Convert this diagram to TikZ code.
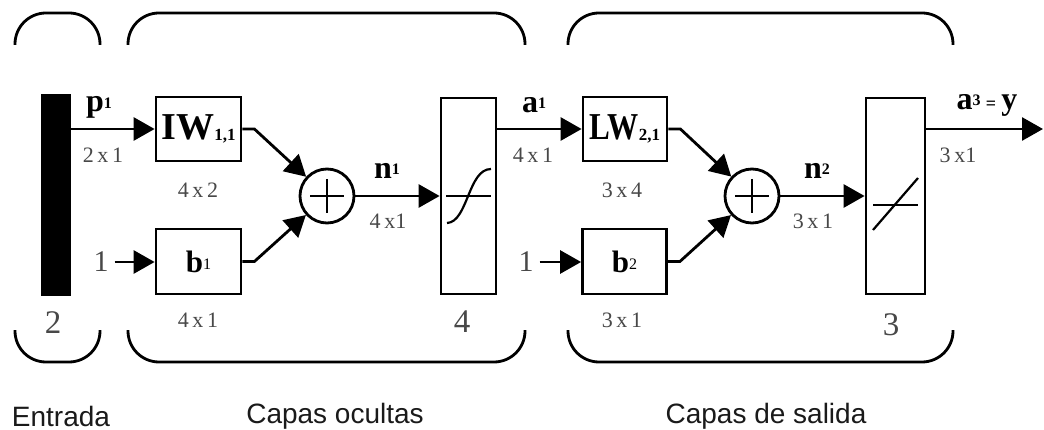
\documentclass[tikz,border=0pt]{standalone}
\usepackage{fontspec}
\setmainfont{Liberation Serif}
\newfontfamily\capsans{Liberation Sans}
\usetikzlibrary{arrows.meta}
\definecolor{labgray}{HTML}{484848}
\definecolor{capdark}{HTML}{1A1A1A}
\newcommand\fsz[1]{\fontsize{#1}{#1}\selectfont}
\newcommand\idx[2]{{\fsz{#1}#2}}
\tikzset{
  wire/.style={line width=2.8pt},
  arr/.style={wire,-{Triangle[length=21pt,width=23pt]}},
  blockbox/.style={draw,line width=2.8pt,inner sep=0pt,fill=white},
  sumnode/.style={draw,circle,line width=2.8pt,minimum size=54pt,inner sep=0pt},
  dimlab/.style={text=labgray,font=\fsz{22},inner sep=0pt},
  numlab/.style={text=labgray,font=\fsz{33},inner sep=0pt},
  biaslab/.style={text=labgray,font=\fsz{30},inner sep=0pt,inner xsep=6pt},
  sigtext/.style={font=\fsz{32}\bfseries,inner sep=0pt},
  bracepath/.style={line width=2.8pt,rounded corners=31pt},
  captext/.style={font=\capsans\fsz{28},text=capdark,inner sep=0pt},
  icon/.style={line width=2.2pt},
}
\begin{document}
\begin{tikzpicture}[x=1pt,y=-1pt]
\useasboundingbox (0,0) rectangle (1044,430);
% braces
\draw[bracepath] (15,45) |- (100,13) -- (100,45);
\draw[bracepath] (128,45) |- (525,13) -- (525,45);
\draw[bracepath] (568,45) |- (953,13) -- (953,45);
\draw[bracepath] (15,330) |- (100,362) -- (100,330);
\draw[bracepath] (128,330) |- (525,362) -- (525,330);
\draw[bracepath] (568,330) |- (953,362) -- (953,330);
% blocks
\node[blockbox,fill=black,minimum width=28pt,minimum height=200pt] (bar) at (56,195) {};
\node[blockbox,minimum width=85pt,minimum height=64pt] (IW) at (198.5,129)
  {{\fsz{38}\bfseries IW}\raisebox{-1pt}{\idx{17}{\bfseries 1,1}}};
\node[blockbox,minimum width=85pt,minimum height=65pt] (b1) at (198.5,261.5)
  {{\fsz{31}\bfseries b}\raisebox{3pt}{\idx{16}{1}}};
\node[sumnode] (s1) at (327,196) {};
\node[blockbox,minimum width=55pt,minimum height=196pt] (sig) at (468.5,196) {};
\node[blockbox,minimum width=84pt,minimum height=64pt] (LW) at (625,129)
  {\scalebox{0.82}[1]{\fsz{38}\bfseries LW}\raisebox{-1pt}{\idx{17}{\bfseries 2,1}}};
\node[blockbox,minimum width=84pt,minimum height=65pt] (b2) at (624.5,261.5)
  {{\fsz{31}\bfseries b}\raisebox{3pt}{\idx{16}{2}}};
\node[sumnode] (s2) at (752,196) {};
\node[blockbox,minimum width=59pt,minimum height=196pt] (lin) at (895.5,196) {};
% icons
\draw[icon] (310,196) -- (344,196);
\draw[icon] (327,179) -- (327,213);
\draw[icon] (735,196) -- (769,196);
\draw[icon] (752,179) -- (752,213);
\draw[icon] (446,196) -- (491,196);
\draw[icon] (447,223) .. controls (468,222) and (468,169) .. (491,169);
\draw[icon] (873,205) -- (918,205);
\draw[icon] (873,230) -- (918,178);
% bias inputs
\node[biaslab] (one1) at (101,262) {1};
\node[biaslab] (one2) at (526,262) {1};
\coordinate (yout) at (1043,129);
% connectors
\draw[arr] (bar.east |- IW.west) -- (IW.west);
\draw[arr] (one1.east) -- (one1.east -| b1.west);
\draw[arr] (IW.east) -- ++(12,0) -- (s1);
\draw[arr] (b1.east) -- ++(12,0) -- (s1);
\draw[arr] (s1.east) -- (sig.west);
\draw[arr] (sig.east |- LW.west) -- (LW.west);
\draw[arr] (one2.east) -- (one2.east -| b2.west);
\draw[arr] (LW.east) -- ++(12,0) -- (s2);
\draw[arr] (b2.east) -- ++(12,0) -- (s2);
\draw[arr] (s2.east) -- (lin.west);
\draw[arr] (lin.east |- yout) -- (yout);
% signal labels
\node[sigtext] (plab) at (99,107) {p\raisebox{3pt}{\idx{16}{1}}};
\node[sigtext] (n1lab) at (387,171) {n\raisebox{4pt}{\idx{16}{1}}};
\node[sigtext] (a1lab) at (534,105) {a\raisebox{4pt}{\idx{16}{1}}};
\node[sigtext] (n2lab) at (817,171) {n\raisebox{4pt}{\idx{16}{2}}};
\node[sigtext] (a3lab) at (987,105) {a\raisebox{4pt}{\idx{16}{3}}\,{\fsz{18}=}\,y};
% dimension labels
\node[dimlab] (d1) at (103,155) {2\,x\,1};
\node[dimlab] (d2) at (198,190) {4\,x\,2};
\node[dimlab] (d3) at (198,320) {4\,x\,1};
\node[dimlab] (d4) at (388,221) {4\,x1};
\node[dimlab] (d5) at (533,155) {4\,x\,1};
\node[dimlab] (d6) at (622,190) {3\,x\,4};
\node[dimlab] (d7) at (622,320) {3\,x\,1};
\node[dimlab] (d8) at (813,221) {3\,x\,1};
\node[dimlab] (d9) at (958,155) {3\,x1};
% layer sizes
\node[numlab] (n2) at (53,323) {2};
\node[numlab] (n4) at (462,322) {4};
\node[numlab] (n3) at (891,325) {3};
% captions
\node[captext] (cap1) at (61,416) {Entrada};
\node[captext] (cap2) at (335,416) {Capas ocultas};
\node[captext] (cap3) at (766,416) {Capas de salida};
\end{tikzpicture}
\end{document}
